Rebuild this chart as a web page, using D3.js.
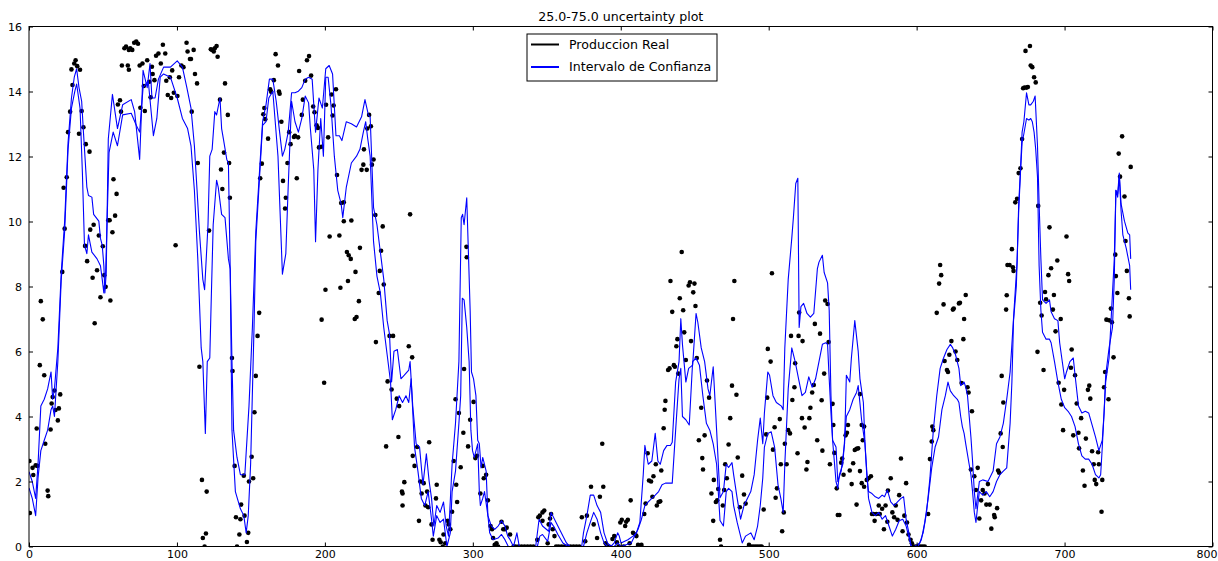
<!DOCTYPE html>
<html>
<head>
<meta charset="utf-8">
<script src="https://cdn.jsdelivr.net/npm/d3@7"></script>
<style>
  body { margin: 0; background: #fff; }
  text { font-family: "DejaVu Sans", sans-serif; }
</style>
</head>
<body>
<div id="chart"></div>
<script>
// ==== Data ====
const titleText = "25.0-75.0 uncertainty plot";
const legendLabels = ["Produccion Real", "Intervalo de Confianza"];
const xTickValues = [0, 100, 200, 300, 400, 500, 600, 700, 800];
const yTickValues = [0, 2, 4, 6, 8, 10, 12, 14, 16];

// upper edge of the confidence band [hour, value]
const upperBound = [
  [0,2.3],[2.2,2.0],[4.5,1.48],[6.1,2.53],[8,4.32],[10.3,4.53],[12.6,4.85],[14.9,5.37],[16,4.53],[17.2,4.85],[19.5,6.11],[21.8,8.43],[24.1,10.01],[26.4,12.43],[28.7,13.8],[30.6,14.44],[32.2,14.7],[33.8,14.12],[35.6,13.7],[36.8,12.75],[39.1,11.06],[40.2,10.8],[42.5,10.75],[43.7,10.22],[47.2,10.01],[48.3,9.48],[49.5,9.27],[50.6,8.64],[51.3,7.8],[52.2,8.43],[53.6,12.54],[56.4,13.91],[59.8,12.86],[63.3,13.59],[69.1,13.75],[71.4,13.38],[74.8,11.91],[77.1,14.65],[79.9,14.12],[81.8,14.86],[83.1,13.8],[85.2,13.8],[87.5,14.38],[91,14.75],[95.6,14.75],
  [100.2,14.94],[103.7,14.75],[106.7,14.12],[109.5,13.49],[111.8,12.33],[113.6,10.96],[115.2,9.69],[117.5,8.22],[118.7,7.9],[121,9.9],[122.2,12.01],[123.8,12.22],[125.6,13.38],[126.8,13.28],[129.1,13.8],[130.2,12.86],[131.4,12.54],[133.7,11.91],[134.8,11.8],[136,8.54],[137.2,5.69],[138.3,3.58],[140.6,2.74],[142.9,2.21],[145.9,2.21],[148.7,4.32],[151,6.74],[153.3,9.69],[155.6,11.38],[157.9,13.07],[160.2,13.59],[162.5,14.38],[164.8,14.38],[167.1,13.7],[169.4,12.75],[171.3,12.01],[172.9,12.22],[175.2,12.75],[177.5,13.96],[179.8,13.96],[182.1,14.01],[184.4,14.12],[186.7,14.38],[189,14.44],[191.4,14.38],
  [193.7,12.75],[196,13.8],[198.3,13.49],[200.6,14.7],[202.9,14.8],[205.2,14.54],[207.5,12.64],[209.8,12.64],[211.5,12.49],[214.5,13.07],[217.9,13.01],[221.4,12.91],[224.8,13.22],[227.1,13.75],[229.4,13.28],[230.6,13.22],[232.9,10.43],[235.2,9.9],[237.5,9.06],[239.8,8.22],[242.1,6.95],[243.7,6.53],[245.1,5.06],[246.7,6.01],[249,6.06],[251.4,5.16],[253.7,5.27],[256.7,5.43],[257.6,5.69],[259.4,4.32],[261.7,3.16],[264,3.06],[266.3,1.9],[268.6,2.85],[270.5,2.0],[272.1,1.48],[273.7,0.63],[275.6,1.26],[277.9,1.05],[280.2,1.37],[282,0.63],[283.6,0.32],
  [286,2.53],[288.3,3.79],[290.6,5.69],[292.2,10.12],[293.1,10.22],[294.1,9.9],[295.9,10.73],[296.8,9.38],[298.2,7.27],[299.1,5.37],[300.5,5.16],[302.1,4.64],[303.3,3.27],[304.4,3.16],[305.6,2.42],[306.7,2.74],[307.9,2.53],[309,2.32],[310.2,0.95],[312.5,0.63],[314.8,0.53],[317.1,0.63],[319.4,0.79],[321.7,0.63],[323.6,0.32],[325.2,0.21],[327.5,0],[329.8,0.42],[331.4,0],[342.5,0],[344.8,0.84],[347.1,0.63],[351.3,0.47],[352.9,1.05],[354,0.95],[356.3,0.74],[358.6,0.53],[360.9,0.32],[363.3,0.11],[365.6,0],[373.6,0],[374.8,0.42],[377.1,0.95],[379.4,1.58],
  [381.7,1.58],[384,1.26],[386.4,1.05],[388.7,0.42],[391,0.11],[393.3,0],[395.6,0.11],[397.9,0.42],[399,0.32],[400.2,0.11],[404.8,0.21],[408.3,0.32],[410.6,0.42],[412.9,0.74],[415.2,2.21],[416.3,3.11],[418.6,2.53],[421,2.63],[423.3,3.48],[425.1,2.63],[426.7,2.53],[429,2.95],[431.3,3.11],[433.6,3.11],[434.8,3.21],[437.1,5.06],[439.4,5.69],[440.6,7.01],[441.7,6.22],[444,5.06],[445.9,5.48],[448.6,5.58],[450.9,7.17],[452.1,6.9],[454.4,6.11],[456.7,5.69],[459,4.85],[460.2,4.64],[462.5,5.53],[464.8,3.58],[467.1,1.5],[469.4,1.69],[471.3,2.53],[472.9,2.43],[475.2,2.58],[476.3,2.21],
  [478.7,1.48],[481,0.84],[483.3,1.26],[485.6,1.48],[487.9,1.69],[490.2,2.21],[492.5,3.27],[494.3,3.95],[496,3.16],[497.1,4.11],[499.4,5.37],[500.6,5.27],[502.9,4.64],[505.2,4.43],[508.6,4.32],[509.8,4.21],[510.9,6.11],[513.2,8.22],[515.6,9.48],[516.7,10.12],[518.3,11.17],[519.7,11.33],[520.6,6.74],[521.8,7.38],[523.6,7.48],[525.9,7.17],[528.2,7.06],[530.5,7.17],[532.9,8.54],[534,8.75],[536.3,8.96],[537.5,8.43],[539.8,8.11],[540.9,7.27],[542.1,4.64],[543.2,3.27],[545.5,3.06],[546.7,2.0],[549,2.32],[551.3,3.16],[552.5,5.27],[554.8,5.06],[555.9,5.8],[558.2,6.95],[560.5,6.01],[561.7,5.16],[564,4.43],
  [565.2,3.06],[566.3,2.21],[567.5,1.69],[569.8,1.63],[572.1,1.53],[574.4,1.48],[576.7,1.58],[578.3,1.53],[580.2,1.74],[582.5,1.37],[584.8,1.26],[587.1,1.37],[589.4,1.48],[591.2,1.53],[592.9,0.84],[595.2,0.32],[596.3,0],[598.6,0],[602.1,0.11],[604.4,0.42],[606.7,1.05],[609,2.11],[611.3,3.58],[613.6,4.64],[615.9,5.48],[618.2,5.8],[620.5,6.06],[622.8,6.22],[624.4,6.11],[626.3,5.9],[628.6,5.48],[629.8,4.95],[632.1,5.06],[633.2,4.9],[634.4,4.64],[636.7,3.37],[637.8,2.63],[639,1.69],[640.1,1.16],[641.3,1.58],[642.4,2.0],[644.7,2.05],[648.2,2.0],[649.4,2.11],[651.7,2.32],[654,3.16],[656.3,3.37],[658.6,3.79],[660.9,4.53],[663.2,5.37],[664.4,6.22],
  [666,7.38],[667.9,8.75],[669,10.54],[670.2,11.59],[671.3,12.75],[672.5,13.07],[674.3,13.96],[675.9,13.59],[677.1,13.59],[678.9,13.7],[680.1,13.86],[681.7,12.33],[682.8,10.54],[684,8.85],[685.1,7.59],[687.5,7.48],[689.8,7.59],[690.9,7.22],[693.2,7.01],[695.5,6.95],[696.7,6.27],[697.8,5.9],[700.1,5.16],[701.3,5.37],[703.6,5.69],[705.9,5.8],[707.1,5.27],[709.4,4.32],[711.7,4.11],[714,4.16],[716.3,4.11],[718.6,3.74],[720.9,3.37],[723.2,2.95],[725.5,3.27],[726.7,4.11],[727.8,5.27],[730.1,6.11],[732.4,6.74],[733.6,8.22],[734.7,10.96],[735.9,10.85],[737,11.49],[738.2,10.54],[740.5,10.01],[742.8,9.64],[744,9.59],[744.7,8.85]
];

// lower edge of the confidence band [hour, value]
const lowerBound = [
  [0,1.8],[2.2,1.48],[4.5,0.95],[6.1,2.11],[8,2.95],[10.3,3.27],[12.6,3.58],[14.9,4.21],[16,4.32],[17.2,4.0],[19.5,5.69],[21.8,8.22],[24.1,9.69],[26.4,12.22],[28.7,13.49],[31,14.01],[32.2,14.23],[34.5,13.49],[36.1,11.49],[37.5,9.27],[39.1,9.01],[40.2,9.59],[42.5,9.06],[46,8.85],[48.3,8.64],[49.5,8.22],[50.6,7.8],[51.8,8.43],[54.1,12.12],[56.9,12.75],[59.8,12.33],[63.3,13.28],[69.1,13.33],[72.5,12.96],[74.8,12.75],[77.1,14.12],[80.6,14.33],[84.1,12.64],[86.4,13.17],[88.7,14.44],[91,14.54],[95.6,14.44],
  [100.2,13.8],[103.7,13.17],[107.2,12.86],[109.5,12.33],[111.8,10.96],[114.1,8.85],[116.4,6.11],[117.5,5.69],[119.2,3.48],[120.5,5.69],[122.2,5.8],[123.3,7.8],[124.5,9.9],[126.8,11.27],[127.9,11.06],[130.2,10.22],[132.5,10.12],[134.8,8.85],[136,8.54],[137.2,3.58],[139.5,1.69],[142.9,1.16],[145.2,0.95],[146.8,0.42],[148.2,0.95],[149.8,2.53],[152.1,6.74],[153.3,9.38],[155.6,11.17],[157.9,12.96],[160.2,13.07],[162.1,13.8],[164.8,14.01],[168.3,12.01],[171.3,8.38],[173.6,9.01],[175.2,11.06],[177.5,13.7],[179.8,13.07],[182.1,12.75],[184.4,13.17],[186.7,13.86],[189,13.65],
  [190.2,12.86],[192.5,11.59],[193.7,9.38],[195.3,11.59],[197.2,13.17],[199,12.01],[200.6,14.44],[202.2,14.44],[204.1,13.59],[206.4,12.01],[208.7,10.96],[211,10.54],[212.1,10.12],[214.5,11.06],[217.9,11.8],[221.4,12.01],[223.7,12.22],[226,12.75],[227.6,13.07],[229,12.54],[230.6,12.01],[232.9,9.38],[235.2,8.32],[237.5,7.8],[239.8,6.74],[242.1,5.9],[244.4,5.06],[245.6,3.9],[247.9,4.21],[250.2,4.64],[252.5,4.43],[254.8,4.64],[256.7,4.43],[258.3,5.16],[260.6,3.06],[262.9,2.32],[265.2,1.48],[267.5,1.26],[269.8,1.69],[272.1,0.84],[273.3,0.32],[275.6,0.95],[277.9,0.74],[280.2,0.84],[282.5,0],[284.8,0.42],
  [286,1.69],[288.3,2.32],[290.6,3.79],[291.8,4.64],[292.9,7.64],[294.1,7.59],[295.9,6.74],[297.5,5.69],[298.7,3.58],[299.8,2.95],[301,2.74],[303.3,3.16],[304.4,1.69],[305.1,1.26],[306.7,1.48],[307.9,1.69],[310.2,0.95],[311.4,0.42],[313.7,0.21],[317.1,0.26],[319.4,0.37],[321.7,0.21],[324,0],[343.6,0],[345.3,0.32],[347.1,0.37],[350.6,0.16],[352.9,0.74],[355.2,0.58],[357.5,0.37],[360.9,0.11],[364.4,0],[374.8,0],[377.1,0.42],[379.4,0.74],
  [381.7,1.05],[384,0.84],[386.4,0.42],[388.7,0.11],[391,0],[395.6,0],[397.9,0.11],[400.2,0],[407.1,0.11],[409.4,0.32],[411.7,0.53],[414,0.84],[416.3,1.26],[418.6,1.37],[421,1.48],[423.3,1.58],[425.6,1.69],[427.9,1.9],[430.2,1.95],[434.8,1.95],[437.1,3.58],[439.4,5.16],[440.6,5.48],[441.7,4.0],[444,3.9],[446.3,3.74],[448.6,5.69],[450.9,5.8],[453.2,5.58],[455.5,4.64],[457.9,3.79],[460.2,3.58],[462.5,3.16],[464.8,2.53],[467.1,0.8],[469.4,0.63],[471.3,1.69],[472.9,1.79],[475.2,1.69],[476.3,1.26],
  [478.7,0.74],[481,0.32],[482.1,0.11],[484.4,0.32],[487.9,0.42],[490.2,0.21],[492.5,0.63],[494.3,1.26],[496,2.11],[497.1,3.06],[499.4,3.48],[501.7,3.53],[504,3.06],[506.3,1.9],[508.2,1.48],[509.8,1.05],[510.9,2.53],[513.2,4.85],[515.6,6.11],[517.9,5.69],[520.2,5.16],[522.5,4.64],[524.8,4.74],[527.1,5.22],[529.4,4.9],[531.7,5.16],[534,5.69],[536.3,6.22],[538.6,6.27],[539.8,6.22],[540.9,5.16],[542.1,4.11],[543.2,3.27],[545.5,2.0],[546.7,1.79],[547.8,2.21],[550.1,2.53],[552.5,4.0],[554.8,4.21],[557.1,4.53],[559.4,4.74],[560.5,4.95],[562.8,3.9],[565.1,3.16],
  [567.5,1.48],[569.8,1.05],[572.1,0.95],[574.4,1.05],[576.7,0.84],[579,0.95],[581.3,0.63],[583.6,0.32],[585.9,0.53],[588.2,0.79],[590.6,0.84],[592.9,0.63],[595.2,0.21],[596.3,0],[600.9,0],[603.2,0.21],[605.5,0.74],[607.8,1.48],[610.2,2.42],[612.5,3.06],[614.8,3.37],[617.1,4.21],[619.4,4.64],[621.2,5.06],[622.8,4.79],[625.1,4.64],[627.5,4.53],[628.6,4.43],[629.8,4.0],[630.9,3.69],[632.1,3.48],[633.2,3.16],[635.5,2.53],[636.7,2.21],[637.8,1.69],[639,1.05],[640.1,0.74],[641.3,1.26],[642.4,1.69],[644.7,1.58],[647.1,1.69],[649.4,1.53],[651.7,1.69],[654,2.0],[656.3,2.21],[658.6,2.32],[660.9,2.42],[663.2,3.79],[664.4,5.06],
  [665.5,6.95],[667.4,8.01],[669,10.33],[670.2,11.49],[671.3,12.43],[672.5,12.7],[674.3,13.17],[675.9,13.12],[677.1,13.17],[678.2,13.07],[679.4,12.75],[680.5,12.22],[681.7,11.38],[682.8,8.64],[684,7.27],[685.1,6.59],[687.5,6.38],[689.8,6.38],[690.9,6.27],[693.2,5.69],[695.5,5.06],[697.8,4.53],[700.1,4.27],[702.4,4.16],[704.7,4.0],[707.1,3.69],[709.4,3.16],[711.7,2.79],[714,2.69],[716.3,2.69],[718.6,2.53],[720.9,2.21],[723.2,2.11],[724.4,2.21],[725.5,3.06],[727.8,5.06],[730.1,5.8],[732.4,7.8],[733.6,8.85],[734.7,10.96],[735.9,10.75],[737,11.38],[738.2,10.33],[739.4,9.59],[741.7,9.17],[744,8.64],[744.7,7.9]
];

// observed production [hour, value]
const realProduction = [
  [0.6,1.03],[0.3,2.63],[2.4,2.42],[2.9,2.2],[4.5,2.5],[5.6,2.48],[5.2,3.63],[7.3,5.58],[8,7.55],[9.3,6.99],[10.3,5.27],[11,3.16],[12.6,1.72],[13,1.55],[14.6,3.6],[15.3,4.4],[16,4.6],[17.2,4.8],[17.9,4.2],[19.5,3.88],[20.2,4.25],[21.1,4.68],[22.5,8.45],[23.4,11.04],[24.1,9.78],[25.5,11.36],[26.4,12.75],[27.8,13.38],[28.7,14.68],[29.4,14.2],[30.6,14.86],[31.5,14.96],[32.6,14.78],[34.5,14.67],[33.8,12.7],[35.6,13.4],[36.8,12.9],[38.4,12.38],[40.9,12.15],[37.9,9.25],[39.3,8.78],[41.4,9.75],[43,8.27],[44.4,6.87],[43.7,9.9],[46,8.5],[47.2,9.57],[48.3,7.67],[49.9,9.24],[50.9,8.35],[51.8,7.99],[53.6,10.04],[54.5,10.04],[55,7.57],[56.4,9.67],[58.2,10.18],[59.2,10.85],[57.1,11.3],[60.1,13.6],[61.5,13.73],[62.2,13.38],[62.8,14.8],[64.5,15.33],[65.6,15.38],[67.5,15.28],[68.4,15.33],[69.8,15.28],[71.1,15.5],[72.5,15.54],[73.7,15.47],[66.8,14.8],[67.5,14.67],[74.8,14.8],[76.7,14.86],[75.3,13.5],[77.6,14.17],[78.3,13.4],[79.9,14.96],[81.3,14.3],[82.2,13.82],[83.1,14.76],[83.6,14.54],[84.8,14.35],[85.9,15.1],[87.5,15.17],[89.1,14.86],[90.5,15.44],[92.1,15.17],[92.8,14.33],[93.8,13.89],
  [96.8,14.65],[95.2,14.44],[96.1,13.8],[97.9,13.96],[100.3,13.86],[99.1,9.27],[101.4,14.44],[103,14.8],[104.4,14.75],[106.5,15.5],[107.2,15.23],[108.8,15.0],[109.5,15.0],[111.3,15.28],[112.2,14.54],[113.6,14.25],[110,13.38],[114.1,11.8],[115.2,5.53],[116.9,2.05],[120.1,1.69],[119.6,0.4],[117.5,0.26],[118.7,0],[121.7,9.72],[122.9,15.3],[123.8,15.28],[124.9,15.23],[125.6,15.33],[126.8,15.4],[127.5,15.07],[129.1,13.75],[132.5,14.25],[134.4,13.28],[131.8,12.12],[129.8,11.6],[130.7,11.0],[135.3,11.8],[135.8,10.73],[137.2,5.8],[137.6,5.4],[139,2.48],[139.9,0.9],[142.9,0.84],[143.4,1.29],[145.7,0.95],[142.2,0.37],[140.6,0],[147.3,0.14],[148.2,0.42],[145.2,2.18],[148.7,2.0],[150.5,2.76],[151.5,2.1],[152.4,4.13],[153.3,5.25],[154.5,6.48],[155.6,7.19],[156.3,11.33],[157.4,11.78],[158.4,13.3],[159.1,13.49],[159.7,13.15],[161.6,12.55],[163,14.07],[163.7,13.99],[165.5,14.35],[166.7,15.15],[168.3,14.8],[169,14.0],[169.4,13.93],[170.6,13.07],[171.7,11.25],[173.6,10.73],[173.1,10.4],[174.7,11.8],[175.9,12.75],[176.8,12.38],[179.1,12.6],[179.8,12.64],[181,11.33],[181.9,12.59],[182.6,14.63],[184.4,13.28],[185.1,13.75],[186.7,14.33],[187.9,14.96],[189.3,15.09],
  [190.7,14.49],[192.1,13.54],[193,13.36],[194.4,12.96],[195.3,12.88],[196,12.28],[197.6,12.3],[197.8,6.98],[199.5,5.04],[200.4,7.9],[200.8,13.59],[202.2,12.59],[203.2,9.54],[204.5,13.91],[205.2,13.26],[205.9,13.57],[207.5,14.07],[208.2,11.43],[210.5,7.96],[209.8,9.57],[211,10.57],[212.8,10.59],[212.8,10.01],[214.9,9.06],[216.1,8.96],[217.5,8.85],[217.9,10.03],[215.6,8.17],[220.7,8.45],[220.2,7.0],[221.4,7.06],[223,7.55],[223.7,9.19],[224.8,11.59],[226,11.75],[228.3,11.59],[226.4,12.22],[228.7,12.86],[229.9,13.28],[231.1,12.93],[231.8,11.75],[232.9,11.91],[234.1,10.2],[234.5,6.29],[236.4,7.8],[237.1,8.48],[238,9.1],[239.1,9.85],[239.8,8.06],[241.4,3.08],[242.4,5.08],[243.7,6.48],[245.1,4.83],[246.1,6.48],[248.6,4.55],[250.2,4.32],[249.7,3.37],[252.1,1.69],[252.5,1.63],[253.7,1.98],[252.5,1.26],[256.7,6.16],[257.6,10.22],[259,5.82],[259.4,2.79],[260.6,2.48],[262.4,3.06],[263.6,0.79],[264.5,2.0],[265.4,1.63],[266.8,1.95],[268,1.26],[269.1,1.69],[270.5,3.21],[269.8,1.21],[272.1,0.68],[272.8,0.21],[275.6,1.9],[275.1,1.48],[277.4,0.21],[278.3,0.13],[279.7,0],
  [280.2,0.37],[281.4,0.1],[283,0.79],[283.7,0.68],[284.8,0.53],[286,1.07],[287.1,2.63],[288.8,1.9],[289.4,1.37],[288.3,4.53],[290.6,4.11],[291.8,2.44],[293.6,3.5],[294.1,5.46],[295.7,9.22],[295.9,8.9],[296.8,3.08],[298.2,3.9],[300.5,4.45],[301.7,2.72],[302.8,2.79],[305.1,1.63],[306.7,2.48],[307.4,2.1],[309,2.21],[310.2,1.42],[312,0.63],[313,0.53],[313.7,0.26],[314.8,0.05],[316,0.1],[317.1,0],[319.4,0.76],[320.6,0.53],[321.7,0.53],[322.9,0.58],[325.2,0.37],[327.5,0],[329,0],[331,0],[333,0],[335,0],[337,0],[339,0],[341,0],[343.6,0.21],[344.3,0.9],[345.3,0.95],[347.1,1.05],[347.1,0.79],[348.3,1.11],[350.6,0.1],[351.3,0.68],[352.2,0.86],[352.9,1.0],[354,0.53],[355.2,0.32],[356.3,0],[358,0],[360,0],[362,0],[364,0],[366,0],[368,0],[370,0],[372,0],
  [373.7,0.9],[376,0.16],[377.1,0.95],[379.9,1.84],[381.7,0.68],[384,0.26],[385.9,1.53],[387.5,3.16],[388.2,1.84],[389.8,0.1],[390.5,0],[392,0],[394.4,0.23],[395.6,0.32],[397.4,0.13],[398.5,0],[399.7,0.74],[400.7,0.82],[402,0],[403,0.63],[403.7,0.76],[404.8,0.82],[406.7,1.42],[406,0.1],[408.3,0.42],[409.9,0.37],[410.6,0.32],[411.7,0.05],[412.5,0],[414,0.05],[415.9,1.0],[416.8,1.32],[418.2,2.87],[419.1,2.03],[420.5,2.0],[421.4,1.53],[422.1,2.16],[423.7,2.53],[424.4,1.26],[425.6,1.37],[426.7,1.39],[427.4,2.34],[429,3.64],[429.7,4.21],[430.2,4.48],[432,5.43],[433,5.48],[433.6,8.17],[434.8,7.22],[435.9,5.58],[436.6,5.53],[437.6,6.16],[438.3,6.38],[438.9,5.32],[439.9,7.64],[441.2,9.06],[442.2,7.27],[442.9,6.59],[444,5.74],[445.9,8.03],[446.8,8.13],[447.5,6.32],[449,7.82],[449.8,8.09],[450.5,7.4],[451.4,5.8],[452.8,3.27],[454.4,4.27],[455.1,2.72],[455.6,2.37],[456.7,3.42],[458.3,5.11],[459.7,4.58],[461.3,1.63],[462.5,0.79],[462.9,2.05],[464.3,1.37],[465.2,1.42],[465.9,1.77],
  [467.1,0.21],[467.8,0],[469,1.26],[469.9,1.74],[470.6,2.53],[471.7,2.1],[472.9,3.14],[474,3.95],[475.2,4.95],[475.9,7.0],[476.8,8.17],[478.2,4.67],[479.1,2.74],[480.5,1.21],[482.1,2.18],[483.3,1.6],[484.4,1.32],[486.7,0.05],[488,0],[489.5,0],[491,0],[492.5,0],[494,0],[495.3,0],[496.6,1.14],[498.3,3.45],[499,4.58],[499.4,6.08],[501.3,5.69],[502.2,8.41],[502.9,2.98],[504,3.67],[504.7,1.5],[505.6,1.79],[507.5,3.92],[508.2,2.53],[509.1,0.47],[510.2,1.05],[510.9,3.16],[512.1,2.53],[513.2,3.58],[514.4,3.48],[515.1,6.48],[516,4.51],[517.4,4.9],[517.9,5.64],[519.5,2.87],[520.2,6.48],[520.6,7.2],[522.9,6.32],[522.5,3.95],[524.3,3.66],[525.5,2.37],[526.2,2.6],[527.5,3.95],[528.2,4.27],[529.4,4.74],[530.5,4.97],[531.2,6.85],[532.8,3.27],[534.7,6.55],[535.8,4.5],[536.3,2.95],[537.5,5.32],[538.2,7.57],[539.8,7.46],[540.5,6.29],[541.4,2.53],[543.2,4.39],[543.7,3.74],[544.4,2.88],[546,1.79],[546.7,0.97],[547.8,0.97],[549,2.58],[549.7,2.71],[550.6,2.21],[552,3.42],[552.9,3.5],[553.6,3.74],[554.8,2.34],[556.1,1.92],[557.1,2.56],[558.2,2.97],[559.4,3.01],[560.5,3.02],[559.4,1.29],
  [561.7,4.69],[562.9,3.74],[563.6,3.27],[564.5,3.69],[561.7,2.32],[562.9,1.95],[564.5,1.84],[566.3,2.05],[567.5,2.1],[569.1,2.16],[569.8,1.0],[570.9,1.0],[571.6,0.79],[572.8,1.0],[574.4,1.26],[575.1,1.0],[576.7,1.16],[577.9,0.53],[579,1.26],[580.6,1.72],[580.2,0.76],[582.5,2.1],[583.6,1.05],[584.8,0.9],[585.9,1.26],[587.1,0.82],[588.2,1.58],[589.4,2.71],[590.5,0.47],[591.7,0.95],[592.9,1.95],[593.5,0.74],[594.5,0.37],[595.9,0.21],[596.8,0.1],[598,0],[599.5,0],[601,0],[602.5,0],[604,0],[605.5,0],[607.8,1.0],[609,2.69],[610.2,3.23],[610.6,3.69],[611.3,3.58],[613.6,7.19],[615.2,8.09],[615.9,8.66],[616.6,8.35],[618.2,7.45],[618.9,5.71],[620.5,5.43],[621.2,5.37],[622.1,5.9],[623.5,6.32],[624.5,7.29],[625.1,7.32],[626.3,6.0],[627.5,5.74],[628.6,7.48],[629.3,7.5],[630.4,5.03],[631.6,6.38],[632.1,7.0],[633.2,7.74],[634.4,4.9],[635.1,4.74],[637.4,4.16],[636.7,2.37],[639,2.16],[641.3,2.42],[640.1,1.74],[642.4,0.86],[643.6,1.42],[644.7,1.74],[645.9,1.63],[647.1,1.29],[648.2,1.92],[649.4,1.29],[650.5,0.55],[652.4,0.97],[652.8,0.9],[654.4,1.18],[655.1,2.34],[655.8,2.27],
  [657.5,5.25],[658.6,4.43],[658.2,3.06],[656.8,3.48],[660.5,7.29],[660.9,7.73],[661.4,8.66],[662.8,8.66],[664.4,9.15],[665.1,8.59],[665.5,8.48],[666.7,10.59],[667.9,10.7],[669,11.49],[670.2,11.64],[671.3,12.54],[672,14.1],[672.9,14.12],[674.3,14.12],[675.2,14.14],[673.6,15.25],[676.6,15.4],[677.1,14.8],[678.2,14.75],[679.4,14.44],[680.5,14.28],[682.2,10.48],[681.7,5.99],[683.5,7.5],[684.5,7.11],[685.8,5.43],[686.8,7.83],[687.5,7.61],[689.1,8.35],[689.8,9.82],[690.9,8.56],[692.1,7.29],[692.8,7.74],[693.9,6.62],[695.1,8.8],[696,5.04],[697.4,7.0],[697.8,4.37],[699.7,4.82],[699,3.58],[701.3,9.54],[702.4,8.38],[703.1,8.17],[704.8,6.06],[704.3,5.5],[705.9,3.42],[707.1,5.27],[708.2,4.4],[709.4,3.5],[709.8,3.02],[711.2,3.95],[712.4,2.34],[713.5,1.87],[714.4,3.32],[715.8,4.82],[716.7,4.95],[717.4,4.55],[718.6,2.93],[719.7,2.53],[720.4,2.05],[721.4,1.92],[722.7,2.9],[723.2,2.53],[725,1.07],[725.5,2.05],[726.7,4.9],[727.4,5.37],[728.3,6.98],[729.7,4.53],[730.1,6.96],[731.3,7.32],[732,6.9],[733.1,5.82],[734.3,8.98],[735.7,7.8],[734.7,8.32],[736.6,12.09],[737.5,11.38],[738.9,12.62],[740.5,10.77],[741.2,9.4],[742.1,8.48],[743.5,7.64],[744,7.08],[744.7,11.68]
];

// ==== Setup ====
const width = 1218, height = 561;
const margin = { top: 26.5, right: 5.5, bottom: 14.5, left: 29 };
const innerW = width - margin.left - margin.right;
const innerH = height - margin.top - margin.bottom;

const svg = d3.select("#chart").append("svg")
  .attr("width", width)
  .attr("height", height)
  .style("background", "#fff");

const x = d3.scaleLinear().domain([0, 800]).range([0, innerW]);
const y = d3.scaleLinear().domain([0, 16]).range([innerH, 0]);

const g = svg.append("g").attr("transform", `translate(${margin.left},${margin.top})`);

// clip so nothing leaks past the frame
g.append("clipPath").attr("id", "plotClip")
  .append("rect").attr("width", innerW).attr("height", innerH);

const plot = g.append("g").attr("clip-path", "url(#plotClip)");

// dots (real production)
plot.selectAll("circle.real")
  .data(realProduction)
  .join("circle")
  .attr("class", "real")
  .attr("cx", d => x(d[0]))
  .attr("cy", d => y(d[1]))
  .attr("r", 2.3)
  .attr("fill", "#000");

// confidence band edges
const line = d3.line().x(d => x(d[0])).y(d => y(d[1]));
[upperBound, lowerBound].forEach(series => {
  plot.append("path")
    .datum(series)
    .attr("fill", "none")
    .attr("stroke", "#0000ff")
    .attr("stroke-width", 1.1)
    .attr("stroke-linejoin", "round")
    .attr("d", line);
});

// ==== Axes (ticks inside, on all four sides) ====
const tickFont = "11px";
const styleAxis = sel => {
  sel.select(".domain").remove();
  sel.selectAll("line").attr("stroke", "#000");
  sel.selectAll("text").attr("fill", "#000").style("font-size", tickFont);
};

const xAxisG = g.append("g").attr("transform", `translate(0,${innerH})`)
  .call(d3.axisBottom(x).tickValues(xTickValues).tickSize(-4).tickPadding(4).tickFormat(d3.format("d")))
  .call(styleAxis);
// last label sits on the page edge: keep it inside the picture
xAxisG.selectAll(".tick text")
  .filter(d => d === xTickValues[xTickValues.length - 1])
  .attr("text-anchor", "end")
  .attr("x", width - margin.left - innerW - 1);

g.append("g")
  .call(d3.axisTop(x).tickValues(xTickValues).tickSize(-4).tickFormat(""))
  .call(styleAxis);
g.append("g")
  .call(d3.axisLeft(y).tickValues(yTickValues).tickSize(-4).tickPadding(7).tickFormat(d3.format("d")))
  .call(styleAxis);
g.append("g").attr("transform", `translate(${innerW},0)`)
  .call(d3.axisRight(y).tickValues(yTickValues).tickSize(-4).tickFormat(""))
  .call(styleAxis);

// frame
g.append("rect")
  .attr("width", innerW).attr("height", innerH)
  .attr("fill", "none").attr("stroke", "#000").attr("stroke-width", 1);

// title
svg.append("text")
  .attr("x", margin.left + innerW / 2)
  .attr("y", 20.5)
  .attr("text-anchor", "middle")
  .style("font-size", "12.6px")
  .text(titleText);

// ==== Legend ====
const legend = svg.append("g").attr("transform", "translate(527,34)");
legend.append("rect")
  .attr("width", 190).attr("height", 47)
  .attr("fill", "#fff").attr("stroke", "#000").attr("stroke-width", 1);
const legendColors = ["#000", "#0000ff"];
legendLabels.forEach((label, i) => {
  const ly = 10.5 + i * 22.5;
  legend.append("line")
    .attr("x1", 4).attr("x2", 32).attr("y1", ly).attr("y2", ly)
    .attr("stroke", legendColors[i]).attr("stroke-width", 2);
  legend.append("text")
    .attr("x", 42).attr("y", ly).attr("dy", "0.35em")
    .style("font-size", "12.6px")
    .text(label);
});
</script>
</body>
</html>
